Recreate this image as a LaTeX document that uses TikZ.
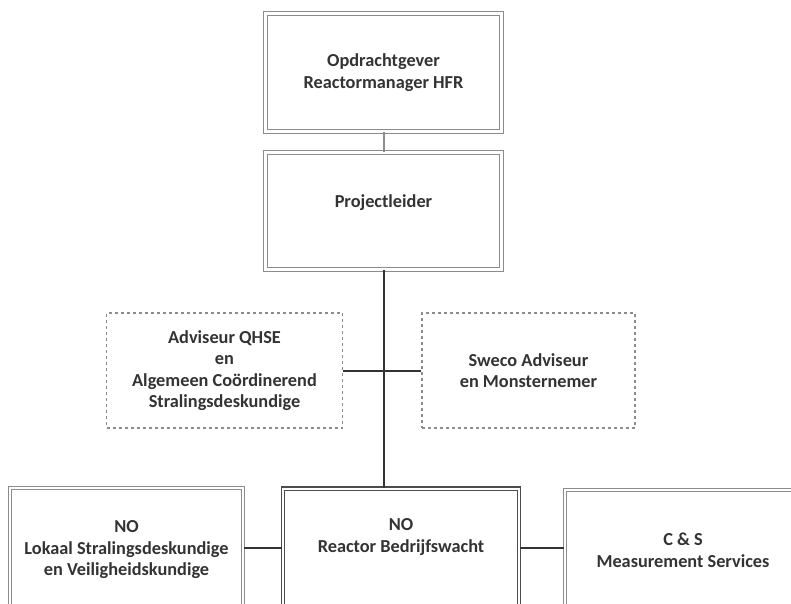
\documentclass[tikz,border=0pt]{standalone}
\usepackage{fontspec}
\setmainfont{Carlito}
\definecolor{txtc}{HTML}{333333}
\definecolor{edgec}{HTML}{8C8C8C}
\definecolor{linec}{HTML}{333333}
\begin{document}
\begin{tikzpicture}[x=1pt,y=-1pt,
  txt/.style={text=txtc, font=\bfseries\fontsize{18.3}{21.5}\selectfont, align=center, inner sep=0pt},
  dbox/.style={draw=edgec, line width=1.2pt, double=white, double distance=2.2pt, fill=white, rectangle, inner sep=0pt, txt},
  darkbox/.style={draw=black!70, line width=1.2pt, double=white, double distance=2.2pt, fill=white, rectangle, inner sep=0pt, txt},
  dashbox/.style={draw=edgec, line width=1.1pt, dash pattern=on 3pt off 3pt, fill=white, rectangle, inner sep=0pt, txt},
  conn/.style={draw=linec, line width=2pt},
  lightconn/.style={draw=edgec, line width=2pt}]
\useasboundingbox (0,0) rectangle (791,603);
\clip (0,0) rectangle (791,603);

% boxes
\node[dbox, minimum width=236pt, minimum height=118pt] (top) at (383.5,72.5) {Opdrachtgever\\Reactormanager HFR};
\node[dbox, minimum width=236pt, minimum height=117pt, text depth=20pt] (proj) at (383.5,211) {Projectleider};
\node[dashbox, minimum width=236pt, minimum height=115pt] (adv) at (224.5,370.5) {Adviseur QHSE\\en\\Algemeen Co\"ordinerend\\Stralingsdeskundige};
\node[dashbox, minimum width=213pt, minimum height=115pt] (sweco) at (528.5,370.5) {Sweco Adviseur\\en Monsternemer};

\node[dbox, minimum width=233pt, minimum height=124pt] (lb) at (126.5,550) {NO\\Lokaal Stralingsdeskundige\\en Veiligheidskundige};
\node[darkbox, minimum width=236pt, minimum height=130pt, anchor=north] (mid) at (401,488) {};
\node[txt] (midtxt) at (401,537) {NO\\Reactor Bedrijfswacht};
\node[dbox, minimum width=236pt, minimum height=120pt] (rb) at (683,550) {C \& S\\Measurement Services};

% connectors
\draw[lightconn] (top.south) -- (proj.north);
\draw[conn] (proj.south) -- (proj.south |- mid.north);
\draw[conn] (adv.east) -- (sweco.west);
\draw[conn] (lb.east |- 0,548) -- (mid.west |- 0,548);
\draw[conn] (mid.east |- 0,548) -- (rb.west |- 0,548);
\end{tikzpicture}
\end{document}
